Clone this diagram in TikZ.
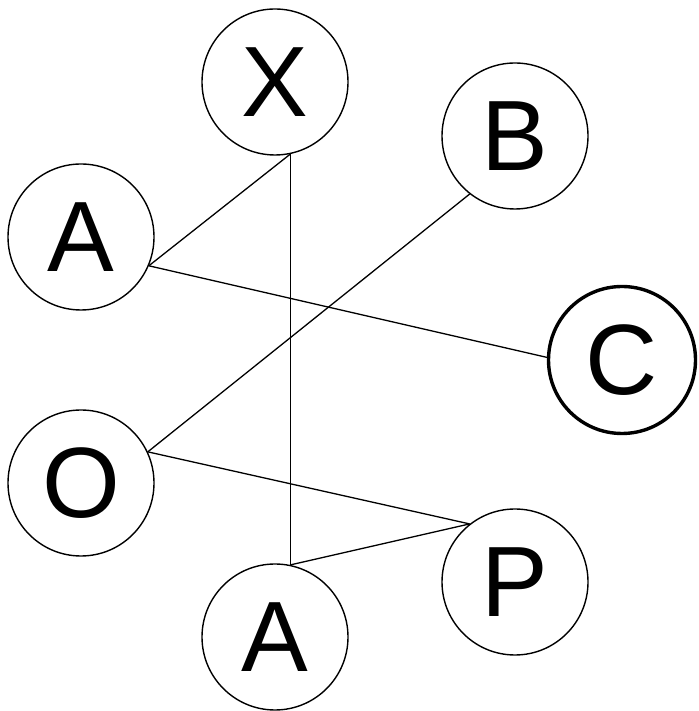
\documentclass[tikz,border=0pt]{standalone}
\usepackage{fontspec}
\setmainfont{Liberation Sans}
\tikzset{
  letternode/.style={
    draw,
    circle,
    fill=white,
    minimum size=146pt,
    inner sep=0pt,
    line width=1.4pt,
    font=\fontsize{100}{110}\selectfont
  },
  boldnode/.style={letternode, line width=3.4pt},
  edge/.style={line width=1.3pt}
}
\begin{document}
\begin{tikzpicture}[x=1pt,y=1pt]
  \useasboundingbox[fill=white] (0,0) rectangle (698,711);

  \node[letternode] (xtop) at (275,629) {X};
  \node[letternode] (bnode) at (515,575) {B};
  \node[letternode] (aupper) at (81,474) {A};
  \node[boldnode, minimum size=147pt] (cnode) at (622,351) {C};
  \node[letternode] (onode) at (81,228) {O};
  \node[letternode] (pnode) at (515,129) {P};
  \node[letternode] (alower) at (275,74) {A};

  \draw[edge] (aupper.-23) -- (xtop.-78);
  \draw[edge] (xtop.-78) -- (alower.78);
  \draw[edge] (bnode.-128) -- (onode.25);
  \draw[edge] (aupper.-23) -- (cnode.178);
  \draw[edge] (onode.25) -- (pnode.128);
  \draw[edge] (alower.78) -- (pnode.128);
\end{tikzpicture}
\end{document}
